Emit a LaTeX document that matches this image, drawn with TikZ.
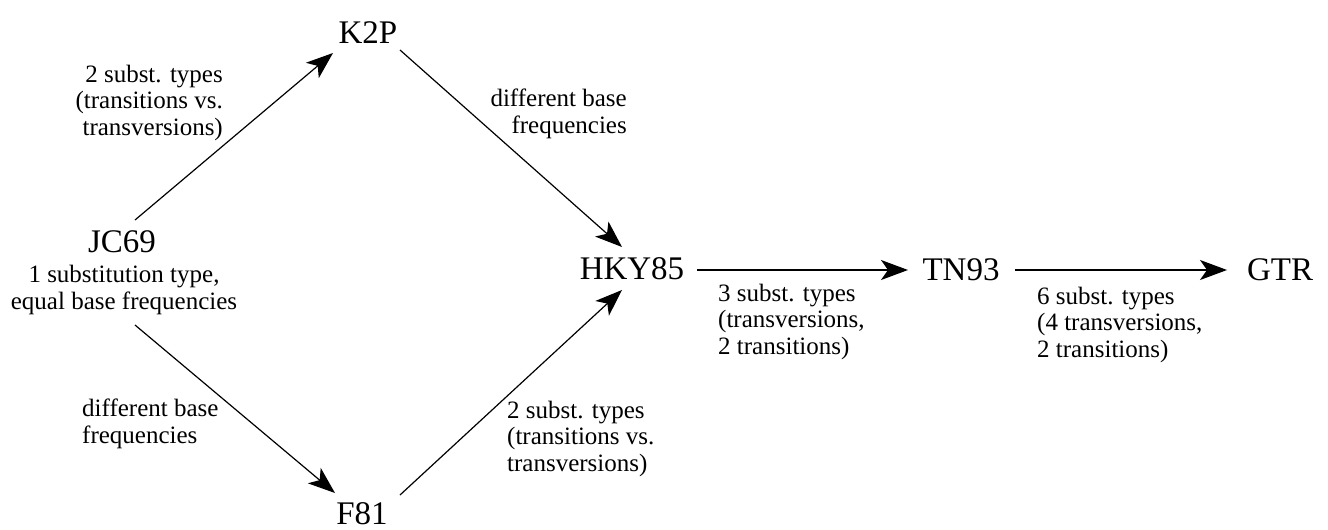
\documentclass[tikz,border=0pt]{standalone}
\usepackage{fontspec}
\setmainfont{Liberation Serif}
\usetikzlibrary{arrows.meta}
\begin{document}
\begin{tikzpicture}[x=1pt,y=-1pt,
  model/.style={inner sep=0pt,font=\fontsize{33}{36}\selectfont},
  note/.style={inner sep=0pt,font=\fontsize{25}{26.5}\selectfont},
  arr/.style={line width=1.2pt,-{Stealth[length=27pt,width=20pt,inset=7pt]}}]
\useasboundingbox (0,0) rectangle (1328,530);

% model names
\node[model,anchor=base] (k2p) at (368,43) {K2P};
\node[model,anchor=base] (jc)  at (122,252) {JC69};
\node[model,anchor=base] (hky) at (632,279) {HKY85};
\node[model,anchor=base] (f81) at (362,524) {F81};
\node[model,anchor=base] (tn)  at (961,280) {TN93};
\node[model,anchor=base] (gtr) at (1280,280) {GTR};

% description of the base model (base anchor = last line)
\node[note,align=center,anchor=base] (jcd) at (124,309) {1 substitution type,\\equal base frequencies};

% transitions between models
\draw[arr] ([shift={(13,-32)}]jc.base) -- ([shift={(-35,10)}]k2p.base);
\draw[arr] ([shift={(32,7)}]k2p.base) -- ([shift={(-10,-32)}]hky.base);
\draw[arr] ([shift={(13,73)}]jc.base) -- ([shift={(-27,-31)}]f81.base);
\draw[arr] ([shift={(38,-29)}]f81.base) -- ([shift={(-10,11)}]hky.base);
\draw[arr] ([shift={(65,-9)}]hky.base) -- ([shift={(-53,-10)}]tn.base);
\draw[arr] ([shift={(54,-10)}]tn.base) -- ([shift={(-53,-10)}]gtr.base);

% transition labels (base anchor = last line)
\node[note,align=right,anchor=base east] (l1) at (223,135) {2 subst. types\\(transitions vs.\\transversions)};
\node[note,align=right,anchor=base east] (l2) at (627,133) {different base\\frequencies};
\node[note,align=left,anchor=base west] (l3) at (82,443) {different base\\frequencies};
\node[note,align=left,anchor=base west] (l4) at (507,471) {2 subst. types\\(transitions vs.\\transversions)};
\node[note,align=left,anchor=base west] (l5) at (718,354) {3 subst. types\\(transversions,\\2 transitions)};
\node[note,align=left,anchor=base west] (l6) at (1037,357) {6 subst. types\\(4 transversions,\\2 transitions)};
\end{tikzpicture}
\end{document}
